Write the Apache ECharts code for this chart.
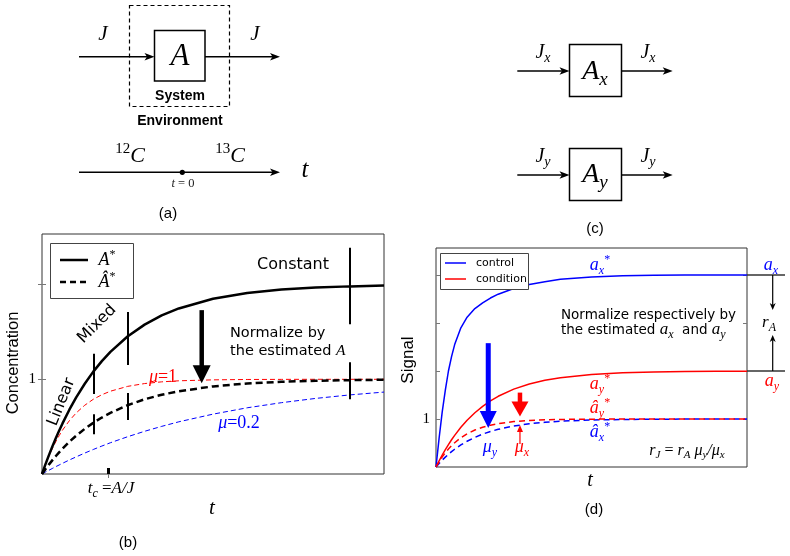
<!DOCTYPE html>
<html><head><meta charset="utf-8">
<script src="https://cdn.jsdelivr.net/npm/echarts@6/dist/echarts.min.js"></script>
<style>html,body{margin:0;padding:0;background:#fff}#c{width:790px;height:556px}</style>
</head><body><div id="c"></div>
<script>
// ---------- data ----------
const tGrid = [0,0.1,0.2,0.3,0.4,0.5,0.6,0.8,1,1.25,1.5,1.75,2,2.5,3,3.5,4,5,6,7,8,9,10];
// panel (b): concentration
const concAStar   = [0,0.101,0.197,0.288,0.374,0.456,0.534,0.679,0.809,0.953,1.081,1.192,1.290,1.452,1.577,1.674,1.748,1.850,1.911,1.947,1.968,1.981,1.989];
const concAHat    = [0,0.051,0.099,0.144,0.187,0.228,0.267,0.340,0.404,0.477,0.540,0.596,0.645,0.726,0.789,0.837,0.874,0.925,0.956,0.974,0.984,0.991,0.995];
const concMu1     = [0,0.098,0.187,0.267,0.339,0.404,0.463,0.563,0.645,0.726,0.789,0.837,0.874,0.925,0.955,0.973,0.984,0.994,0.998,0.999,1,1,1];
const concMu02    = [0,0.020,0.039,0.058,0.077,0.095,0.113,0.148,0.181,0.221,0.259,0.295,0.330,0.393,0.451,0.503,0.551,0.632,0.699,0.753,0.798,0.835,0.865];
const tcValue = 1.93;
const yTicksB = [1, 2];
const barX        = [1.5, 2.5, 9.0];
const barSolidLo  = [0.845, 1.15, 1.58];
const barSolidHi  = [1.27, 1.71, 2.39];
const barDashLo   = [0.42, 0.57, 0.79];
const barDashHi   = [0.63, 0.855, 1.18];
const arrowBX = [4.67], arrowBFrom = [1.73], arrowBTo = [0.958];
// panel (d): signal
const sigControl   = [0,0.6,1.15,1.6,2.0,2.3,2.55,2.9,3.12,3.3,3.42,3.52,3.6,3.72,3.8,3.86,3.91,3.96,3.985,3.995,4,4,4];
const sigCondition = [0,0.129,0.250,0.363,0.468,0.567,0.659,0.827,0.973,1.131,1.264,1.377,1.473,1.622,1.729,1.806,1.861,1.929,1.963,1.981,1.990,1.995,1.997];
const normCondition= [0,0.111,0.210,0.297,0.375,0.445,0.506,0.610,0.692,0.770,0.829,0.872,0.905,0.947,0.971,0.984,0.991,0.997,0.999,1,1,1,1];
const normControl  = [0,0.074,0.143,0.206,0.265,0.319,0.370,0.460,0.537,0.618,0.685,0.740,0.785,0.854,0.900,0.932,0.954,0.979,0.990,0.995,0.998,0.999,1];
const yTicksD = [1, 2, 3, 4];
const plateauX = 4, plateauY = 2;
const arrowMuY = {x:[1.68], from:[2.58], to:[0.81]};
const arrowMuX = {x:[2.70], from:[1.55], to:[1.05]};
const arrowMuXup = {x:[2.70], from:[0.50], to:[0.875]};

// ---------- helpers ----------
const SERIF = '"Liberation Serif","DejaVu Serif",serif';
const SANS = '"DejaVu Sans",sans-serif';
const ARIAL = '"Liberation Sans",Arial,sans-serif';
const BLUE = '#0000ff', RED = '#ff0000';
const zip = (xs, ys) => xs.map((x, i) => [x, ys[i]]);

function mathRich(size, color, nSize) {
  const c = color || '#000';
  const L = Math.round(size * 1.25), s = Math.round(size * 0.68);
  const ns = nSize || size * 0.93;
  return {
    i: {fontFamily: SERIF, fontStyle: 'italic', fontSize: size, color: c, lineHeight: L},
    r: {fontFamily: SERIF, fontSize: size, color: c, lineHeight: L},
    b: {fontFamily: SERIF, fontStyle: 'italic', fontSize: s, color: c, lineHeight: s, verticalAlign: 'bottom'},
    p: {fontFamily: SERIF, fontSize: s, color: c, lineHeight: s, verticalAlign: 'top'},
    n: {fontFamily: SANS, fontSize: ns, color: c, lineHeight: L},
    bi: {fontFamily: SERIF, fontStyle: 'italic', fontSize: size, color: BLUE, lineHeight: L},
    bb: {fontFamily: SERIF, fontStyle: 'italic', fontSize: s, color: BLUE, lineHeight: s, verticalAlign: 'bottom'},
    ri: {fontFamily: SERIF, fontStyle: 'italic', fontSize: size, color: RED, lineHeight: L},
    rb: {fontFamily: SERIF, fontStyle: 'italic', fontSize: s, color: RED, lineHeight: s, verticalAlign: 'bottom'}
  };
}
function M(x, y, text, size, color, opt) {
  opt = opt || {};
  return {type: 'text', x, y, rotation: opt.rot || 0, silent: true, z: 100,
    style: {text, rich: mathRich(size, color, opt.nSize), fill: color || '#000',
      align: opt.align || 'center', verticalAlign: opt.va || 'middle'}};
}
function P(x, y, text, font, color, opt) {
  opt = opt || {};
  return {type: 'text', x, y, rotation: opt.rot || 0, silent: true, z: 100,
    style: {text, font, fill: color || '#000', align: opt.align || 'center', verticalAlign: opt.va || 'middle'}};
}
function L(x1, y1, x2, y2, stroke, lw, dash) {
  return {type: 'line', silent: true, z: 100, shape: {x1, y1, x2, y2}, style: {stroke, lineWidth: lw, lineDash: dash || null}};
}
function hArrow(x1, y, x2) {
  return [
    L(x1, y, x2 - 6, y, '#000', 1.5),
    {type: 'polygon', silent: true, shape: {points: [[x2, y], [x2 - 10, y - 3.8], [x2 - 7.5, y], [x2 - 10, y + 3.8]]}, style: {fill: '#000'}}
  ];
}
function vArrow(x, y1, y2, color, lw, hl, hw) {
  const d = y2 > y1 ? 1 : -1;
  return [
    L(x, y1, x, y2 - d * hl * 0.6, color, lw),
    {type: 'polygon', silent: true, shape: {points: [[x, y2], [x - hw / 2, y2 - d * hl], [x, y2 - d * hl * 0.7], [x + hw / 2, y2 - d * hl]]}, style: {fill: color}}
  ];
}
function arrowRender(color, shaftW, headW, headL) {
  return function (params, api) {
    const x = api.value(0), y0 = api.value(1), y1 = api.value(2);
    const p0 = api.coord([x, y0]), p1 = api.coord([x, y1]);
    const d = p1[1] > p0[1] ? 1 : -1;
    const baseY = p1[1] - d * headL;
    return {type: 'group', children: [
      {type: 'rect', shape: {x: p0[0] - shaftW / 2, y: Math.min(p0[1], baseY), width: shaftW, height: Math.abs(baseY - p0[1]) + 1}, style: {fill: color}},
      {type: 'polygon', shape: {points: [[p1[0], p1[1]], [p1[0] - headW / 2, baseY], [p1[0] + headW / 2, baseY]]}, style: {fill: color}}
    ]};
  };
}

const tickStyle = {color: '#777', width: 1};
function yAxisDef(grid, max, ticks, pos, labels) {
  return {gridIndex: grid, type: 'value', min: 0, max, position: pos, axisLine: {show: false}, splitLine: {show: false},
    axisTick: {show: true, inside: true, length: 4, customValues: ticks, lineStyle: tickStyle},
    axisLabel: labels ? {customValues: [1], formatter: v => String(v), fontFamily: SERIF, fontSize: 15, color: '#000', margin: 6} : {show: false}};
}
const lineSeries = (name, xi, yi, ys, color, width, dash) => ({
  name, type: 'line', xAxisIndex: xi, yAxisIndex: yi, data: zip(tGrid, ys), symbol: 'none', smooth: false,
  lineStyle: {color, width, type: dash || 'solid'}, itemStyle: {color}, z: 3
});

const option = {
  animation: false,
  backgroundColor: '#fff',
  grid: [
    {left: 42, top: 234, width: 342, height: 240, show: true, borderColor: '#333', borderWidth: 1},
    {left: 436, top: 248, width: 311, height: 219, show: true, borderColor: '#333', borderWidth: 1}
  ],
  xAxis: [
    {gridIndex: 0, type: 'value', min: 0, max: 10, position: 'bottom', axisLine: {show: false}, splitLine: {show: false},
     axisLabel: {show: false}, axisTick: {show: true, inside: true, length: 6, customValues: [tcValue], lineStyle: {color: '#000', width: 3}}},
    {gridIndex: 0, type: 'value', min: 0, max: 10, position: 'top', axisLine: {show: false}, splitLine: {show: false},
     axisLabel: {show: false}, axisTick: {show: true, inside: true, length: 4, customValues: [tcValue], lineStyle: tickStyle}},
    {gridIndex: 1, type: 'value', min: 0, max: 10, axisLine: {show: false}, splitLine: {show: false}, axisLabel: {show: false}, axisTick: {show: false}}
  ],
  yAxis: [
    yAxisDef(0, 2.534, yTicksB, 'left', true),
    yAxisDef(0, 2.534, yTicksB, 'right', false),
    yAxisDef(1, 4.5625, yTicksD, 'left', true),
    yAxisDef(1, 4.5625, yTicksD, 'right', false)
  ],
  series: [
    lineSeries('μ=0.2', 0, 0, concMu02, BLUE, 1, [5, 3]),
    lineSeries('μ=1', 0, 0, concMu1, RED, 1, [5, 3]),
    lineSeries('A*', 0, 0, concAStar, '#000', 2.5),
    lineSeries('Â*', 0, 0, concAHat, '#000', 2.5, [7, 4]),
    {name: 'regimes', type: 'lines', coordinateSystem: 'cartesian2d', xAxisIndex: 0, yAxisIndex: 0, silent: true, z: 4,
     lineStyle: {color: '#000', width: 2, opacity: 1},
     data: barX.flatMap((x, i) => [{coords: [[x, barSolidLo[i]], [x, barSolidHi[i]]]}, {coords: [[x, barDashLo[i]], [x, barDashHi[i]]]}])},
    {name: 'normalize', type: 'custom', xAxisIndex: 0, yAxisIndex: 0, silent: true, z: 5,
     renderItem: arrowRender('#000', 4.5, 18, 18), data: arrowBX.map((x, i) => [x, arrowBFrom[i], arrowBTo[i]])},

    lineSeries('control', 2, 2, sigControl, BLUE, 1.5),
    lineSeries('condition', 2, 2, sigCondition, RED, 1.5),
    lineSeries('control normalized', 2, 2, normControl, BLUE, 1.5, [6, 4]),
    lineSeries('condition normalized', 2, 2, normCondition, RED, 1.5, [6, 4]),
    {name: 'mu_y', type: 'custom', xAxisIndex: 2, yAxisIndex: 2, silent: true, z: 5,
     renderItem: arrowRender(BLUE, 5, 17, 17), data: arrowMuY.x.map((x, i) => [x, arrowMuY.from[i], arrowMuY.to[i]])},
    {name: 'mu_x', type: 'custom', xAxisIndex: 2, yAxisIndex: 2, silent: true, z: 5,
     renderItem: arrowRender(RED, 4.5, 17, 15), data: arrowMuX.x.map((x, i) => [x, arrowMuX.from[i], arrowMuX.to[i]])},
    {name: 'mu_x up', type: 'custom', xAxisIndex: 2, yAxisIndex: 2, silent: true, z: 5,
     renderItem: arrowRender(RED, 1.2, 6, 7), data: arrowMuXup.x.map((x, i) => [x, arrowMuXup.from[i], arrowMuXup.to[i]])}
  ]
};

const chart = echarts.init(document.getElementById('c'));
chart.setOption(option);

// right-hand annotation of panel (d), anchored on the plateaus
const yAx = chart.convertToPixel({xAxisIndex: 2, yAxisIndex: 2}, [10, plateauX])[1];
const yAy = chart.convertToPixel({xAxisIndex: 2, yAxisIndex: 2}, [10, plateauY])[1];
const rightX = chart.convertToPixel({xAxisIndex: 2, yAxisIndex: 2}, [10, 0])[0];

const g = [];
// ---- (a)
g.push({type: 'rect', silent: true, shape: {x: 129.5, y: 5.5, width: 100, height: 101}, style: {fill: 'none', stroke: '#000', lineWidth: 1.2, lineDash: [4, 3]}});
g.push({type: 'rect', silent: true, shape: {x: 154.5, y: 30.5, width: 50.5, height: 50.5}, style: {fill: 'none', stroke: '#000', lineWidth: 1.5}});
g.push(...hArrow(79, 56.7, 154.5), ...hArrow(205, 56.7, 280), ...hArrow(79, 172.3, 280));
g.push({type: 'circle', silent: true, shape: {cx: 182.3, cy: 172.3, r: 2.6}, style: {fill: '#000'}});
g.push(M(103, 34, '{i|J}', 21), M(255, 34, '{i|J}', 21), M(180, 57, '{i|A}', 31));
g.push(P(180, 96, 'System', 'bold 14px ' + ARIAL), P(180, 121, 'Environment', 'bold 14px ' + ARIAL));
g.push(M(130, 156, '{p|12}{i|C}', 22), M(230, 156, '{p|13}{i|C}', 22), M(305, 170, '{i|t}', 25));
g.push(M(183, 184, '{i|t}{r| = 0}', 12.5, '#222'), P(168, 214, '(a)', '15px ' + ARIAL));
// ---- (c)
g.push({type: 'rect', silent: true, shape: {x: 569.5, y: 44.5, width: 52, height: 52}, style: {fill: 'none', stroke: '#000', lineWidth: 1.5}});
g.push({type: 'rect', silent: true, shape: {x: 569.5, y: 148.5, width: 52, height: 52}, style: {fill: 'none', stroke: '#000', lineWidth: 1.5}});
g.push(...hArrow(517.3, 71, 569.5), ...hArrow(621.5, 71, 672.7), ...hArrow(517.3, 175, 569.5), ...hArrow(621.5, 175, 672.7));
g.push(M(543, 53, '{i|J}{b|x}', 20), M(648, 53, '{i|J}{b|x}', 20), M(595, 72, '{i|A}{b|x}', 28));
g.push(M(543, 157, '{i|J}{b|y}', 20), M(648, 157, '{i|J}{b|y}', 20), M(595, 175, '{i|A}{b|y}', 28));
g.push(P(595, 229, '(c)', '15px ' + ARIAL));
// ---- (b)
g.push({type: 'rect', silent: true, z: 90, shape: {x: 50.5, y: 243.5, width: 83, height: 55}, style: {fill: '#fff', stroke: '#444', lineWidth: 1}});
g.push(L(60, 260, 88, 260, '#000', 2.5), L(60, 282, 88, 282, '#000', 2.5, [6, 4]));
g.push(M(107, 260, '{i|A}{p|*}', 18), M(107, 282, '{i|Â}{p|*}', 18));
g.push(P(293, 265, 'Constant', '16px ' + SANS));
g.push(P(97, 324, 'Mixed', '16px ' + SANS, '#000', {rot: Math.PI / 4}));
g.push(P(61.5, 402, 'Linear', '16px ' + SANS, '#000', {rot: 1.19}));
g.push(P(230, 333, 'Normalize by', '14.5px ' + SANS, '#000', {align: 'left'}));
g.push(M(230, 351, '{n|the estimated }{i|A}', 15.5, '#000', {align: 'left', nSize: 14.5}));
g.push(M(163, 377, '{i|μ}{r|=1}', 18, RED), M(239, 423, '{i|μ}{r|=0.2}', 18, BLUE));
g.push(M(111, 489, '{i|t}{b|c}{r| =}{i|A/J}', 17), M(212, 508, '{i|t}', 21));
g.push(P(128, 543, '(b)', '15px ' + ARIAL));
g.push(P(13, 363, 'Concentration', '16.5px ' + ARIAL, '#000', {rot: Math.PI / 2}));
// ---- (d)
g.push({type: 'rect', silent: true, z: 90, shape: {x: 440.5, y: 253.5, width: 88, height: 36}, style: {fill: '#fff', stroke: '#444', lineWidth: 1}});
g.push(L(445, 263, 466, 263, BLUE, 1.5), L(445, 279, 466, 279, RED, 1.5));
g.push(P(476, 263, 'control', '11px ' + SANS, '#000', {align: 'left'}), P(476, 279, 'condition', '11px ' + SANS, '#000', {align: 'left'}));
g.push(M(600, 265, '{i|a}{b|x}{p|*}', 18, BLUE));
g.push(P(561, 315, 'Normalize respectively by', '13.5px ' + SANS, '#000', {align: 'left'}));
g.push(M(561, 330, '{n|the estimated }{bi|a}{bb|x}{n|  and }{ri|a}{rb|y}', 17, '#000', {align: 'left', nSize: 13.5}));
g.push(M(600, 384, '{i|a}{b|y}{p|*}', 18, RED), M(600, 408, '{i|â}{b|y}{p|*}', 18, RED), M(600, 432, '{i|â}{b|x}{p|*}', 18, BLUE));
g.push(M(687, 451, '{i|r}{b|J}{r| = }{i|r}{b|A}{r| }{i|μ}{b|y}{i|/μ}{b|x}', 16));
g.push(M(490, 447, '{i|μ}{b|y}', 18, BLUE), M(522, 447, '{i|μ}{b|x}', 18, RED));
g.push(P(408, 360, 'Signal', '17px ' + ARIAL, '#000', {rot: Math.PI / 2}));
g.push(M(590, 481, '{i|t}', 20), P(594, 510, '(d)', '15px ' + ARIAL));
g.push(L(rightX, yAx, 785, yAx, '#333', 1.5), L(rightX, yAy, 785, yAy, '#333', 1.5));
g.push(...vArrow(772.7, yAx, yAx + 35, '#000', 1.2, 7, 6), ...vArrow(772.7, yAy, yAy - 36, '#000', 1.2, 7, 6));
g.push(M(771, yAx - 10, '{i|a}{b|x}', 18, BLUE), M(769, (yAx + yAy) / 2, '{i|r}{b|A}', 17), M(772, yAy + 10, '{i|a}{b|y}', 18, RED));

chart.setOption({graphic: g});
</script>
</body></html>
